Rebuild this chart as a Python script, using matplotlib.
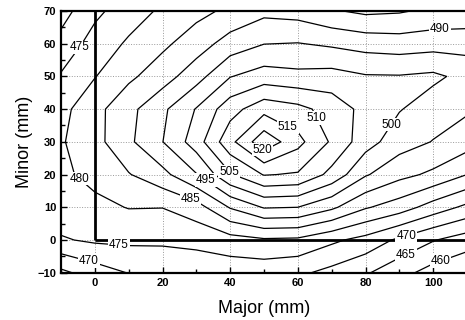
import matplotlib
matplotlib.use("Agg")
import matplotlib.pyplot as plt
import numpy as np

plt.rcParams['font.family'] = ['Liberation Sans', 'DejaVu Sans']

# grid of the measured field
major_mm = [-10, 0, 10, 20, 30, 40, 50, 60, 70, 80, 90, 100, 110]
minor_mm = [-10, 0, 10, 20, 30, 40, 50, 60, 70]

row_m10 = [463.8, 467.5, 470.2, 471.5, 471.8, 472.0, 472.0, 471.0, 468.5, 465.6, 461.7, 458.0, 455.5]
row_0   = [474.5, 475.8, 476.0, 475.8, 476.4, 478.0, 479.3, 479.0, 476.0, 473.3, 469.0, 465.3, 462.5]
row_10  = [478.0, 478.7, 480.2, 480.1, 482.8, 490.4, 495.4, 495.0, 491.0, 485.5, 482.5, 477.8, 473.8]
row_20  = [479.0, 481.5, 484.7, 488.5, 494.7, 504.5, 510.3, 509.5, 503.5, 495.5, 491.5, 489.0, 485.0]
row_30  = [479.5, 483.3, 489.0, 494.9, 502.5, 513.5, 523.5, 516.5, 509.3, 502.1, 497.2, 494.8, 492.2]
row_40  = [478.5, 483.4, 488.5, 494.0, 500.3, 508.0, 513.3, 511.5, 508.0, 503.4, 500.3, 497.5, 495.7]
row_50  = [475.5, 479.8, 484.0, 487.7, 493.0, 499.8, 502.3, 501.4, 501.9, 500.4, 500.3, 501.0, 498.5]
row_60  = [471.6, 477.1, 480.7, 484.0, 487.5, 492.2, 494.9, 495.2, 494.2, 493.0, 492.4, 493.0, 493.0]
row_70  = [468.0, 473.8, 477.7, 480.8, 483.6, 486.0, 488.7, 488.0, 485.5, 484.0, 484.5, 486.0, 486.5]

levels = [460, 465, 470, 475, 480, 485, 490, 495, 500, 505, 510, 515, 520]

# approximate label anchor spots
label_spots = [(-4.4, 58.7), (-4.4, 19.0), (28.6, 13.2), (33.5, 19.3), (41.4, 22.4),
               (49.5, 27.5), (58.5, 37.5), (67.5, 38.2), (86.7, 35.9), (102.0, 65.0),
               (7.0, -2.5), (-2.0, -7.3), (92.0, 1.5), (91.7, -4.0), (101.5, -4.6)]

Z = np.array([row_m10, row_0, row_10, row_20, row_30, row_40, row_50, row_60, row_70])
X, Y = np.meshgrid(major_mm, minor_mm)

fig = plt.figure(figsize=(4.65, 3.2), dpi=100)
ax = fig.add_axes([61 / 465, (320 - 272.7) / 320, (467 - 61) / 465, (272.7 - 11) / 320])

cs = ax.contour(X, Y, Z, levels=levels, colors='black', linewidths=0.9)
texts = ax.clabel(cs, manual=label_spots, fmt='%d', fontsize=8.5, inline=False)
for t in texts:
    t.set_rotation(0)
    t.set_bbox(dict(facecolor='white', edgecolor='none', pad=0.6))
    t.set_zorder(4)

ax.plot([0, 0], [0, 70], color='black', lw=2.0, solid_capstyle='butt', zorder=3)
ax.plot([0, 110], [0, 0], color='black', lw=2.0, solid_capstyle='butt', zorder=3)

ax.set_xlim(-10, 110)
ax.set_ylim(-10, 70)
ax.set_xticks([0, 20, 40, 60, 80, 100])
ax.set_xticks(np.arange(-10, 111, 10), minor=True)
ax.set_yticks(np.arange(-10, 71, 10))
ax.set_yticks(np.arange(-10, 71, 5), minor=True)
ax.tick_params(which='both', direction='in', labelsize=8)
ax.tick_params(which='major', length=4, width=1)
ax.tick_params(which='minor', length=3, width=1)
ax.tick_params(top=False, right=False)
for lab in ax.get_xticklabels() + ax.get_yticklabels():
    lab.set_fontweight('bold')
ax.grid(True, which='major', linestyle=':', color='0.6', linewidth=0.7)
for s in ['left', 'bottom', 'top']:
    ax.spines[s].set_linewidth(1.6)
ax.spines['right'].set_visible(False)

ax.set_xlabel('Major (mm)', fontsize=13, labelpad=9)
ax.set_ylabel('Minor (mm)', fontsize=13, labelpad=3)

fig.savefig('out.png', dpi=100)
